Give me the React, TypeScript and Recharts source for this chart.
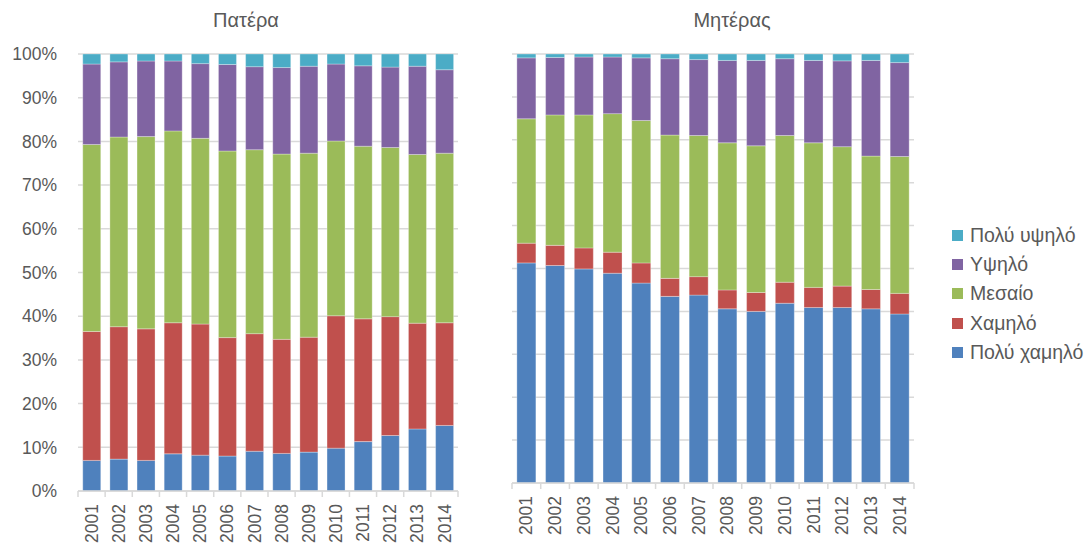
import React from 'react';
import { BarChart, Bar, XAxis, YAxis, CartesianGrid } from 'recharts';

const years = ['2001','2002','2003','2004','2005','2006','2007','2008','2009','2010','2011','2012','2013','2014'];

const seriesNames = ['Πολύ χαμηλό', 'Χαμηλό', 'Μεσαίο', 'Υψηλό', 'Πολύ υψηλό'];
const seriesColors = ['#4F81BD', '#C0504D', '#9BBB59', '#8064A2', '#4BACC6'];

const fatherVeryLow = [7.0,7.3,7.0,8.5,8.2,8.0,9.1,8.6,8.9,9.8,11.3,12.7,14.2,15.0];
const fatherLow = [29.5,30.3,30.1,30.0,30.0,27.1,26.9,26.1,26.3,30.3,28.1,27.2,24.2,23.5];
const fatherMid = [42.8,43.4,44.0,43.9,42.5,42.7,42.1,42.4,42.1,40.0,39.5,38.7,38.6,38.8];
const fatherHigh = [18.4,17.2,17.3,16.0,17.1,19.8,19.0,19.8,19.9,17.6,18.4,18.4,20.2,19.1];
const fatherVeryHigh = [2.3,1.8,1.6,1.6,2.2,2.4,2.9,3.1,2.8,2.3,2.7,3.0,2.8,3.6];

const motherVeryLow = [51.3,50.7,49.9,48.9,46.6,43.5,43.8,40.6,40.0,41.9,40.9,40.9,40.6,39.4];
const motherLow = [4.6,4.7,4.9,4.9,4.7,4.2,4.3,4.4,4.4,4.9,4.7,5.0,4.5,4.8];
const motherMid = [29.0,30.4,31.0,32.3,33.2,33.4,32.9,34.3,34.2,34.2,33.7,32.5,31.1,31.9];
const motherHigh = [14.2,13.4,13.5,13.2,14.6,17.8,17.7,19.2,19.9,17.9,19.2,20.0,22.3,21.9];
const motherVeryHigh = [0.9,0.8,0.7,0.7,0.9,1.1,1.3,1.5,1.5,1.1,1.5,1.6,1.5,2.0];

const yTicks = [0,10,20,30,40,50,60,70,80,90,100];

const keys = ['s0','s1','s2','s3','s4'];

function build(series: number[][]) {
  return years.map((y, i) => {
    const row: any = { year: y };
    series.forEach((s, k) => { row[keys[k]] = s[i]; });
    return row;
  });
}

const fatherData = build([fatherVeryLow, fatherLow, fatherMid, fatherHigh, fatherVeryHigh]);
const motherData = build([motherVeryLow, motherLow, motherMid, motherHigh, motherVeryHigh]);

const FONT = '"Liberation Sans", Arial, sans-serif';
const TEXT = '#595959';
const GRID = '#d9d9d9';

function makeTick(band: number) {
  return (props: any) => {
    const { x, y, payload, index } = props;
    return (
      <g>
        <line x1={x - band / 2} x2={x - band / 2} y1={y} y2={y + 6} stroke={GRID} strokeWidth={1.5} />
        {index === years.length - 1 ? (
          <line x1={x + band / 2} x2={x + band / 2} y1={y} y2={y + 6} stroke={GRID} strokeWidth={1.5} />
        ) : null}
        <text
          transform={`translate(${x},${y + 13}) rotate(-90)`}
          textAnchor="end"
          dy="0.35em"
          fill={TEXT}
          fontSize={17.5}
          fontFamily={FONT}
        >
          {payload.value}
        </text>
      </g>
    );
  };
}

function bars() {
  return keys.map((k, i) => (
    <Bar
      key={k}
      dataKey={k}
      name={seriesNames[i]}
      stackId="a"
      fill={seriesColors[i]}
      stroke="#ffffff"
      strokeOpacity={0.5}
      strokeWidth={0.6}
      isAnimationActive={false}
    />
  ));
}

export default function App() {
  return (
    <div style={{ position: 'absolute', left: 0, top: 0, width: 1089, height: 547, background: '#fff', fontFamily: FONT }}>
      <div style={{ position: 'absolute', left: 146, top: 9, width: 200, textAlign: 'center', fontSize: 20, color: TEXT }}>Πατέρα</div>
      <div style={{ position: 'absolute', left: 632, top: 9, width: 200, textAlign: 'center', fontSize: 20, color: TEXT }}>Μητέρας</div>

      <div style={{ position: 'absolute', left: 0, top: 0 }}>
        <BarChart width={470} height={547} data={fatherData} margin={{ top: 54, right: 12, bottom: 0, left: 0 }} barCategoryGap="17.5%">
          <CartesianGrid vertical={false} stroke={GRID} strokeWidth={1.5} />
          <XAxis
            dataKey="year"
            height={56}
            axisLine={{ stroke: GRID, strokeWidth: 1.5 }}
            tickLine={false}
            tickSize={0}
            tickMargin={0}
            interval={0}
            tick={makeTick(380 / 14)}
          />
          <YAxis
            width={78}
            domain={[0, 100]}
            ticks={yTicks}
            allowDataOverflow
            axisLine={false}
            tickLine={false}
            tickSize={6}
            tickMargin={15}
            tickFormatter={(v: number) => `${v}%`}
            tick={{ fill: TEXT, fontSize: 17.5, fontFamily: FONT }}
          />
          {bars()}
        </BarChart>
      </div>

      <div style={{ position: 'absolute', left: 480, top: 0 }}>
        <BarChart width={609} height={547} data={motherData} margin={{ top: 54, right: 175, bottom: 0, left: 32 }} barCategoryGap="17%">
          <CartesianGrid vertical={false} stroke={GRID} strokeWidth={1.5} />
          <XAxis
            dataKey="year"
            height={64}
            axisLine={{ stroke: GRID, strokeWidth: 1.5 }}
            tickLine={false}
            tickSize={0}
            tickMargin={0}
            interval={0}
            tick={makeTick(402 / 14)}
          />
          <YAxis hide domain={[0, 100]} ticks={yTicks} allowDataOverflow />
          {bars()}
        </BarChart>
      </div>

      <div style={{ position: 'absolute', left: 952, top: 221 }}>
        {seriesNames.map((n, i) => ({ n, i })).reverse().map(({ n, i }) => (
          <div key={n} style={{ display: 'flex', alignItems: 'center', height: 29.2 }}>
            <div style={{ width: 11, height: 11, background: seriesColors[i], marginRight: 7 }} />
            <span style={{ fontSize: 19.5, color: TEXT, whiteSpace: 'nowrap' }}>{n}</span>
          </div>
        ))}
      </div>
    </div>
  );
}
